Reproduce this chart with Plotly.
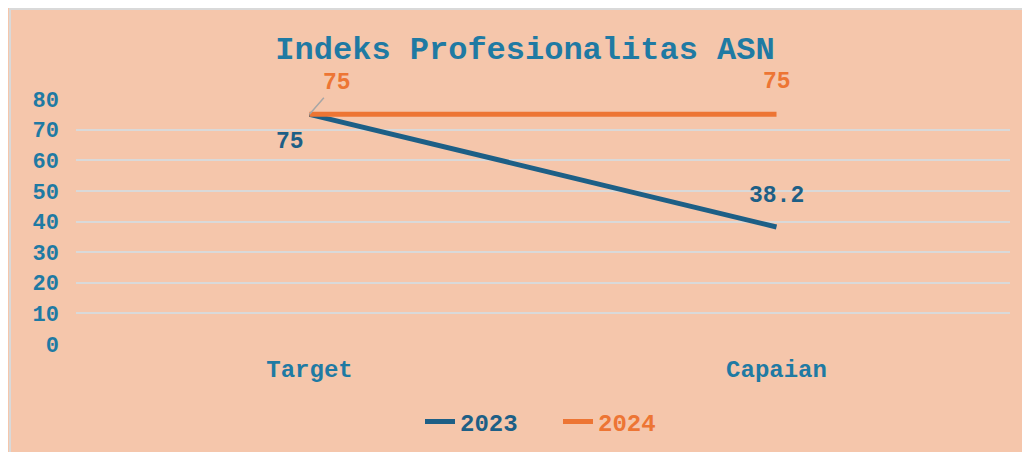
import plotly.graph_objects as go

categories = ["Target", "Capaian"]
values_2023 = [75, 38.2]
values_2024 = [75, 75]
labels_2023 = ["75", "38.2"]
labels_2024 = ["75", "75"]
y_ticks = [0, 10, 20, 30, 40, 50, 60, 70, 80]

BG = "#F5C6AB"
BLUE = "#1D5F86"
ORANGE = "#ED7534"
AXIS_TXT = "#1F7AA3"
FONT = "Liberation Mono"

fig = go.Figure()
fig.add_trace(go.Scatter(x=categories, y=values_2023, mode="lines", name="<b><span style='color:%s'>2023</span></b>" % BLUE,
                         line=dict(color=BLUE, width=5)))
fig.add_trace(go.Scatter(x=categories, y=values_2024, mode="lines", name="<b><span style='color:%s'>2024</span></b>" % ORANGE,
                         line=dict(color=ORANGE, width=5)))

# data labels
fig.add_annotation(x=categories[0], y=values_2023[0], text="<b>%s</b>" % labels_2023[0], showarrow=False,
                   xshift=-20, yshift=-28, font=dict(color=BLUE, size=23, family=FONT))
fig.add_annotation(x=categories[1], y=values_2023[1], text="<b>%s</b>" % labels_2023[1], showarrow=False,
                   xshift=0, yshift=31, font=dict(color=BLUE, size=23, family=FONT))
fig.add_annotation(x=categories[0], y=values_2024[0], text="<b>%s</b>" % labels_2024[0], showarrow=True,
                   ax=27, ay=-31, arrowhead=0, arrowwidth=1.5, arrowcolor="#A6A6A6", standoff=0,
                   font=dict(color=ORANGE, size=23, family=FONT))
fig.add_annotation(x=categories[1], y=values_2024[1], text="<b>%s</b>" % labels_2024[1], showarrow=False,
                   xshift=0, yshift=32, font=dict(color=ORANGE, size=23, family=FONT))

# figure geometry (page has 8px body margin)
W, H = 1030, 452
L, R, T, B = 68, 28, 91, 116
pw, ph = W - L - R, H - T - B

# border around chart
fig.add_shape(type="rect", xref="paper", yref="paper", layer="below",
              x0=(2 - L) / pw, x1=(W + 20 - L) / pw, y0=(T + ph - H - 20) / ph, y1=(T + ph - 1) / ph,
              fillcolor="rgba(0,0,0,0)", line=dict(color="#D9D9D9", width=2))

fig.update_layout(
    width=W, height=H, autosize=False,
    margin=dict(l=L, r=R, t=T, b=B, autoexpand=False),
    paper_bgcolor=BG, plot_bgcolor="rgba(0,0,0,0)",
    title=dict(text="<b>Indeks Profesionalitas ASN</b>", x=(517 - L) / pw, xref="paper", xanchor="center",
               y=1 - 40 / H, yanchor="middle",
               font=dict(family=FONT, size=32, color=AXIS_TXT)),
    showlegend=True,
    legend=dict(orientation="h", x=(412 - L) / pw, xanchor="left", y=(T + ph - 414) / ph, yanchor="middle",
                entrywidth=93, font=dict(family=FONT, size=24), bgcolor="rgba(0,0,0,0)"),
    xaxis=dict(range=[-0.5, 1.5], showgrid=False, zeroline=False, showline=False, ticks="",
               ticklabelstandoff=8,
               tickfont=dict(family=FONT, size=24, color=AXIS_TXT, weight="bold")),
    yaxis=dict(range=[0, 80], tickvals=y_ticks, showgrid=True, gridcolor="#D9D9D9", gridwidth=1.5,
               zeroline=False, showline=False, ticks="", ticklabelstandoff=16,
               tickfont=dict(family=FONT, size=22, color=AXIS_TXT, weight="bold")),
)

fig.write_html("out.html")
